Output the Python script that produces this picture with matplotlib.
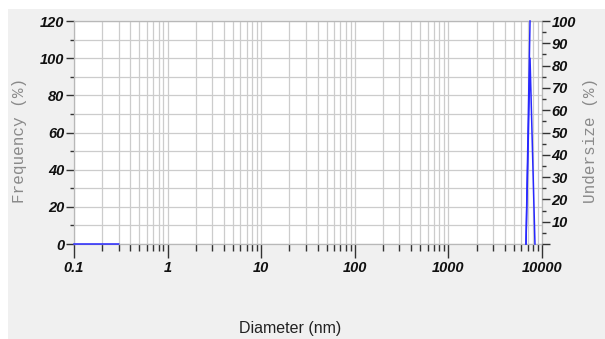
import numpy as np
import matplotlib
matplotlib.use("Agg")
import matplotlib.pyplot as plt
from matplotlib.ticker import FixedLocator, LogLocator, NullFormatter, FixedFormatter
from matplotlib.patches import Rectangle

# Particle size distribution
freq_diam = [0.1, 0.3, np.nan, 6745, 7450, 8410]
freq_vals = [0, 0, np.nan, 0, 100, 0]
under_diam = [6745, 7450]
under_vals = [0, 100]

x_ticks = [0.1, 1, 10, 100, 1000, 10000]
x_labels = ["0.1", "1", "10", "100", "1000", "10000"]
left_ticks = [0, 20, 40, 60, 80, 100, 120]
right_ticks = [10, 20, 30, 40, 50, 60, 70, 80, 90, 100]

W, H = 605, 339
fig = plt.figure(figsize=(W / 100, H / 100), dpi=100, facecolor="#f0f0f0")
# white margin strips along the top and left edges
fig.patches.append(Rectangle((0, 1 - 9 / H), 1, 9 / H, transform=fig.transFigure,
                             facecolor="white", edgecolor="none", zorder=0))
fig.patches.append(Rectangle((0, 0), 8 / W, 1, transform=fig.transFigure,
                             facecolor="white", edgecolor="none", zorder=0))

ax = fig.add_axes([74 / W, 1 - 244 / H, (542 - 74) / W, (244 - 21) / H])
ax.set_facecolor("white")
ax.set_xscale("log")
ax.set_xlim(0.1, 10000)
ax.set_ylim(0, 120)

sans = ["Liberation Sans Narrow", "Liberation Sans", "DejaVu Sans"]
tick_font = dict(family=sans, weight="bold", style="italic", size=10.5)

ax.xaxis.set_major_locator(FixedLocator(x_ticks))
ax.xaxis.set_major_formatter(FixedFormatter(x_labels))
ax.xaxis.set_minor_locator(LogLocator(base=10, subs=np.arange(2, 10)))
ax.xaxis.set_minor_formatter(NullFormatter())
ax.yaxis.set_major_locator(FixedLocator(left_ticks))
ax.yaxis.set_minor_locator(FixedLocator(np.arange(10, 120, 20)))

ax.grid(True, which="both", color="#cccccc", linewidth=0.9)
ax.set_axisbelow(True)
for sp in ax.spines.values():
    sp.set_color("#b8b8b8")
    sp.set_linewidth(0.9)

ax.tick_params(axis="x", which="major", length=10, width=1, color="#333333", pad=2)
ax.tick_params(axis="x", which="minor", length=5, width=1, color="#333333")
ax.tick_params(axis="y", which="major", length=6, width=1, color="#333333", pad=1)
ax.tick_params(axis="y", which="minor", length=3, width=1, color="#333333")
for lab in ax.get_xticklabels() + ax.get_yticklabels():
    lab.set(**tick_font)
    lab.set_color("#111111")

ax.plot(freq_diam, freq_vals, color="#2828ff", linewidth=1.1, zorder=4, clip_on=False)

ax2 = ax.twinx()
ax2.set_ylim(0, 100)
ax2.yaxis.set_major_locator(FixedLocator([0] + right_ticks))
ax2.yaxis.set_major_formatter(FixedFormatter([""] + [str(v) for v in right_ticks]))
ax2.yaxis.set_minor_locator(FixedLocator(np.arange(5, 100, 10)))
ax2.tick_params(axis="y", which="major", length=6, width=1, color="#333333", pad=1)
ax2.tick_params(axis="y", which="minor", length=3, width=1, color="#333333")
for sp in ax2.spines.values():
    sp.set_visible(False)
for lab in ax2.get_yticklabels():
    lab.set(**tick_font)
    lab.set_color("#111111")
ax2.plot(under_diam, under_vals, color="#2828ff", linewidth=1.1, zorder=4, clip_on=False)

mono = ["Liberation Mono", "DejaVu Sans Mono"]
fig.text(20 / W, 1 - 140 / H, "Frequency (%)", rotation=90, ha="center", va="center",
         family=mono, size=11.5, color="#8a8a8a")
fig.text(590 / W, 1 - 140 / H, "Undersize (%)", rotation=90, ha="center", va="center",
         family=mono, size=11.5, color="#8a8a8a")
fig.text(290 / W, 1 - 329 / H, "Diameter (nm)", ha="center", va="center",
         family=sans, size=11.5, color="#222222")

fig.savefig("out.png", dpi=100, facecolor=fig.get_facecolor())
